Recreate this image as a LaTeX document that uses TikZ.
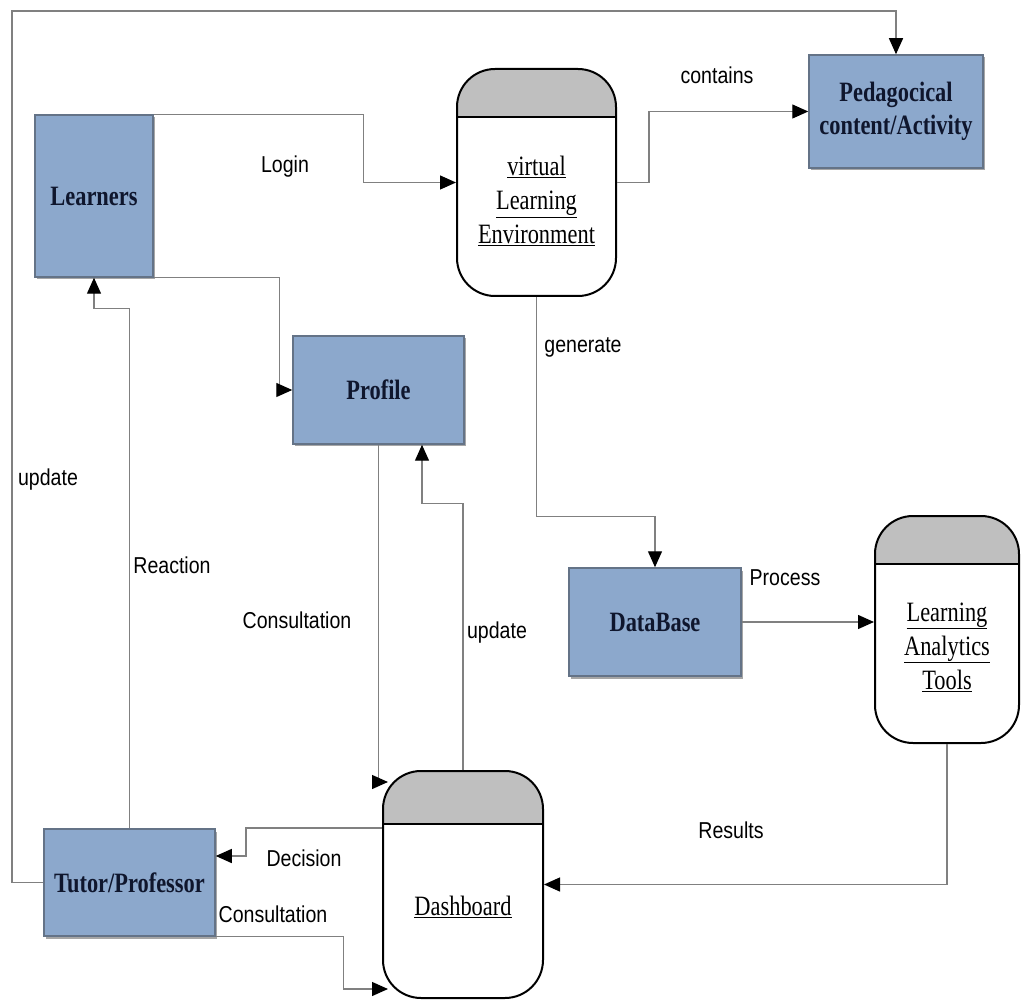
\documentclass[tikz,border=0pt]{standalone}
\usepackage{fontspec}
\setmainfont{Liberation Serif}[FakeStretch=0.8]
\newfontfamily\labfont{Liberation Sans}[FakeStretch=0.85]
\usetikzlibrary{arrows.meta,shadows}
\definecolor{boxblue}{RGB}{140,168,204}
\definecolor{boxedge}{RGB}{100,115,135}
\definecolor{navy}{RGB}{15,22,45}
\definecolor{wire}{RGB}{128,128,128}
\definecolor{hdr}{RGB}{191,191,191}
\newcommand\ulx[1]{\underline{#1}}
\tikzset{
  bluebox/.style={draw=boxedge, line width=1.5pt, fill=boxblue, text=navy,
    font=\fontsize{28}{33}\selectfont\bfseries, align=center, inner sep=0pt,
    drop shadow={shadow xshift=2pt, shadow yshift=-2.5pt, fill=black, opacity=0.35}},
  store/.style={draw=black, line width=2pt, fill=white, rounded corners=38pt, inner sep=0pt,
    path picture={
      \fill[hdr, sharp corners] ([yshift=2pt]path picture bounding box.north west) rectangle ([yshift=-#1]path picture bounding box.north east);
      \draw[line width=2pt, sharp corners] ([yshift=-#1]path picture bounding box.north west) -- ([yshift=-#1]path picture bounding box.north east);}},
  storetext/.style={font=\fontsize{28}{34}\selectfont, align=center, text=black, inner sep=0pt},
  wire/.style={draw=wire, line width=1.3pt, -{Triangle[length=16pt,width=14pt,color=black]}},
  lab/.style={font=\labfont\fontsize{23}{26}\selectfont, text=black, inner sep=0pt}
}
\begin{document}
\begin{tikzpicture}[x=1pt,y=-1pt]
\useasboundingbox[fill=white] (0,0) rectangle (1021,1000);

% nodes
\node[bluebox, minimum width=118pt, minimum height=162pt] (L) at (94,196) {Learners};
\node[bluebox, minimum width=174pt, minimum height=113pt] (P) at (896,111.5) {Pedagocical\\content/Activity};
\node[store=48pt, minimum width=159pt, minimum height=227pt] (V) at (536.5,182.5) {};
\node[storetext] (Vt) at (536.5,201) {\ulx{virtual}\\\ulx{Learning}\\\ulx{Environment}};
\node[bluebox, minimum width=171pt, minimum height=108pt] (Pr) at (378.5,390) {Profile};
\node[bluebox, minimum width=172pt, minimum height=108pt] (D) at (655,622) {DataBase};
\node[store=48pt, minimum width=144pt, minimum height=227pt] (A) at (947,629.5) {};
\node[storetext] (At) at (947,647) {\ulx{Learning}\\\ulx{Analytics}\\\ulx{Tools}};
\node[store=53pt, minimum width=160pt, minimum height=227pt] (Db) at (463,884.5) {};
\node[storetext] (Dbt) at (463,907) {\ulx{Dashboard}};
\node[bluebox, minimum width=171pt, minimum height=107pt] (T) at (129.5,882.5) {Tutor/Professor};

% connectors
\draw[wire] (L.north east) -- ++(210,0) |- (V.west);
\draw[wire] (V.east) -- ++(32,0) |- (P.west);
\coordinate (tl) at (12,11);
\draw[wire] (T.west) -| (tl) -| (P.north);
\draw[wire] (L.south east) -- ++(126,0) |- (Pr.west);
\draw[wire] (T.north) |- ([yshift=-31pt]L.south) -- (L.south);
\draw[wire] (V.south) |- ([yshift=51pt]D.north) -- (D.north);
\draw[wire] (D.east) -- (D.east -| A.west);
\draw[wire] (A.south) |- (Db.east);
\draw[wire] (Pr.south) |- ([xshift=6pt,yshift=-12pt]Db.north west);
\draw[wire] (Db.north) |- ([xshift=43.5pt,yshift=-59pt]Pr.south) -- ([xshift=43.5pt]Pr.south);
\draw[wire] ([yshift=56.5pt]Db.west) -- ++(-136,0) |- ([yshift=26.5pt]T.east);
\draw[wire] (T.south east) -- ++(128,0) |- ([xshift=6pt,yshift=10pt]Db.south west);

% labels
\node[lab] (l1) at (285,167) {Login};
\node[lab] (l2) at (717,75) {contains};
\node[lab] (l3) at (48,480) {update};
\node[lab] (l4) at (172,565) {Reaction};
\node[lab] (l5) at (297,620) {Consultation};
\node[lab] (l6) at (497,633) {update};
\node[lab] (l7) at (583,347) {generate};
\node[lab] (l8) at (785,578) {Process};
\node[lab] (l9) at (731,830) {Results};
\node[lab] (l10) at (304,858) {Decision};
\node[lab] (l11) at (273,914) {Consultation};
\end{tikzpicture}
\end{document}
